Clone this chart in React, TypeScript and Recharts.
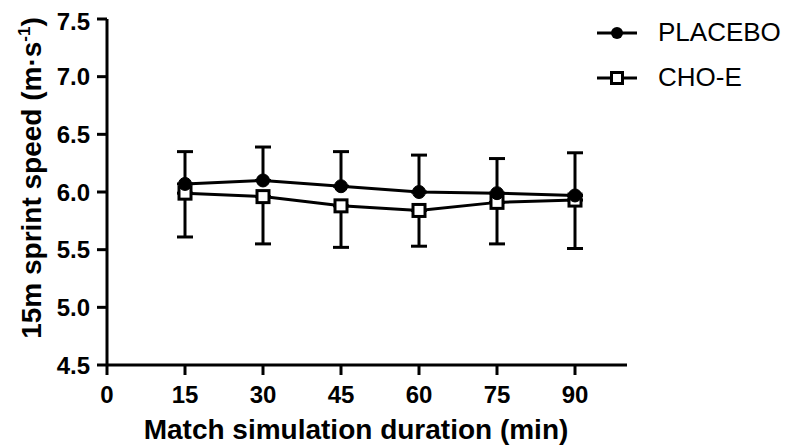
import { LineChart, Line, XAxis, YAxis, ErrorBar, Legend, Label } from "recharts";

const FONT = "'Liberation Sans', Arial, Helvetica, sans-serif";

const times = [15, 30, 45, 60, 75, 90];
const placebo = [6.07, 6.1, 6.05, 6.0, 5.99, 5.97];
const placeboSd = [0.28, 0.29, 0.3, 0.32, 0.3, 0.37];
const choE = [5.99, 5.96, 5.88, 5.84, 5.91, 5.93];
const choESd = [0.38, 0.41, 0.36, 0.31, 0.36, 0.42];

const xTicks = [0, 15, 30, 45, 60, 75, 90];
const yTicks = [4.5, 5.0, 5.5, 6.0, 6.5, 7.0, 7.5];
const legendOrder = ["PLACEBO", "CHO-E"];

// placebo SD drawn upward only, CHO-E SD downward only
const data = times.map((t, i) => ({
  time: t,
  PLACEBO: placebo[i],
  "CHO-E": choE[i],
  placeboErr: [0, placeboSd[i]],
  choErr: [choESd[i], 0],
}));

const CircleDot = (props: any) => {
  const { cx, cy } = props;
  if (cx == null || cy == null) return null;
  return <circle cx={cx} cy={cy} r={6.5} fill="#000" stroke="#000" strokeWidth={1} />;
};

const SquareDot = (props: any) => {
  const { cx, cy } = props;
  if (cx == null || cy == null) return null;
  return <rect x={cx - 6} y={cy - 6} width={12} height={12} fill="#fff" stroke="#000" strokeWidth={3} />;
};

const YTitle = (props: any) => {
  const vb = props.viewBox || {};
  const x = 33;
  const y = vb.y + vb.height / 2 - 14;
  return (
    <text
      x={x}
      y={y}
      transform={`rotate(-90, ${x}, ${y})`}
      textAnchor="middle"
      fontFamily={FONT}
      fontWeight="bold"
      fontSize={28}
      fill="#000"
    >
      15m sprint speed (m·s
      <tspan dy={-11} fontSize={17}>-1</tspan>
      <tspan dy={11}>)</tspan>
    </text>
  );
};

const LegendBox = (props: any) => {
  const items = [...(props.payload || [])].sort(
    (a: any, b: any) => legendOrder.indexOf(a.value) - legendOrder.indexOf(b.value)
  );
  return (
    <div style={{ fontFamily: FONT, fontSize: 26, color: "#000" }}>
      {items.map((it: any) => (
        <div key={it.value} style={{ display: "flex", alignItems: "center", height: 45 }}>
          <svg width={40} height={20}>
            <line x1={0} y1={10} x2={40} y2={10} stroke="#000" strokeWidth={3} />
            {it.value === "PLACEBO" ? (
              <circle cx={20} cy={10} r={6} fill="#000" />
            ) : (
              <rect x={14.5} y={4.5} width={11} height={11} fill="#fff" stroke="#000" strokeWidth={3} />
            )}
          </svg>
          <span style={{ marginLeft: 21 }}>{it.value}</span>
        </div>
      ))}
    </div>
  );
};

export default function App() {
  const tickStyle = { fontFamily: FONT, fontWeight: "bold", fontSize: 24, fill: "#000" };
  return (
    <LineChart width={776} height={440} data={data} margin={{ top: 11, right: 157, bottom: 0, left: 0 }}>
      <XAxis
        dataKey="time"
        type="number"
        domain={[0, 100]}
        ticks={xTicks}
        allowDataOverflow
        axisLine={{ stroke: "#000", strokeWidth: 3 }}
        tickLine={{ stroke: "#000", strokeWidth: 3 }}
        tickSize={10}
        tickMargin={11}
        tick={tickStyle}
        height={83}
      >
        <Label
          value="Match simulation duration (min)"
          position="insideBottom"
          offset={9}
          dx={-11}
          style={{ fontFamily: FONT, fontWeight: "bold", fontSize: 28, fill: "#000" }}
        />
      </XAxis>
      <YAxis
        type="number"
        domain={[4.5, 7.5]}
        ticks={yTicks}
        tickFormatter={(v: number) => v.toFixed(1)}
        axisLine={{ stroke: "#000", strokeWidth: 3 }}
        tickLine={{ stroke: "#000", strokeWidth: 3 }}
        tickSize={10}
        tickMargin={7}
        tick={tickStyle}
        width={99}
      >
        <Label content={<YTitle />} />
      </YAxis>
      <Legend
        layout="horizontal"
        verticalAlign="middle"
        align="center"
        content={<LegendBox />}
        wrapperStyle={{ left: 589, top: 2, width: 190 }}
      />
      <Line
        dataKey="CHO-E"
        stroke="#000"
        strokeWidth={3}
        dot={<SquareDot />}
        activeDot={false}
        isAnimationActive={false}
      >
        <ErrorBar dataKey="choErr" direction="y" width={8} stroke="#000" strokeWidth={3} />
      </Line>
      <Line
        dataKey="PLACEBO"
        stroke="#000"
        strokeWidth={3}
        dot={<CircleDot />}
        activeDot={false}
        isAnimationActive={false}
      >
        <ErrorBar dataKey="placeboErr" direction="y" width={8} stroke="#000" strokeWidth={3} />
      </Line>
    </LineChart>
  );
}
